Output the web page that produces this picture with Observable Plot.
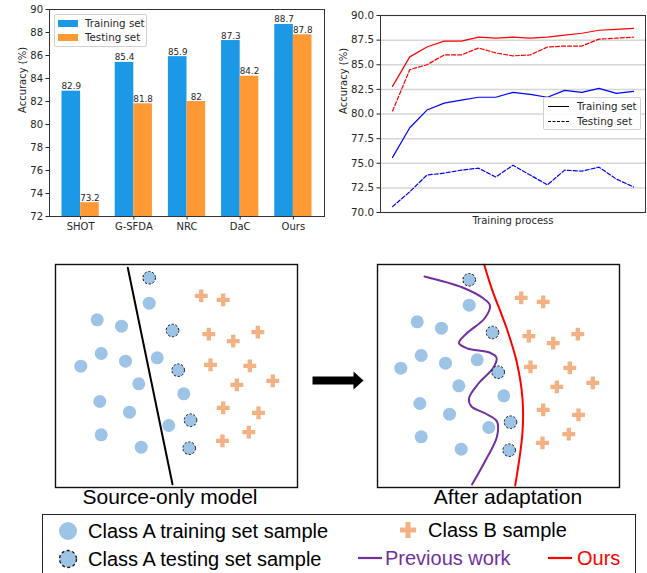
<!DOCTYPE html>
<html><head><meta charset="utf-8">
<script src="https://cdn.jsdelivr.net/npm/d3@7"></script>
<script src="https://cdn.jsdelivr.net/npm/@observablehq/plot@0.6"></script>
<style>
body{margin:0;overflow:hidden;background:#fff;}
#root{position:relative;width:647px;height:573px;overflow:hidden;background:#fff;}
#root > *{position:absolute;}
.lg{font-family:"DejaVu Sans";font-size:10px;color:#262626;background:rgba(255,255,255,0.85);border:1px solid #d0d0d0;border-radius:2px;box-sizing:border-box;}
.lg div{position:absolute;white-space:nowrap;line-height:12px;}
.big{font-family:"Liberation Sans",Arial,sans-serif;white-space:nowrap;color:#000;}
</style></head><body><div id="root"></div>
<script>
// ---------- data ----------
const methods = ["SHOT", "G-SFDA", "NRC", "DaC", "Ours"];
const trainAcc = [82.9, 85.4, 85.9, 87.3, 88.7];
const testAcc = [73.2, 81.8, 82, 84.2, 87.8];
const barTicks = [72, 74, 76, 78, 80, 82, 84, 86, 88, 90];
const setNames = ["Training set", "Testing set"];
const barColors = ["#1b98e6", "#ff9933"];

const oursTrain = [82.8, 85.8, 86.8, 87.4, 87.4, 87.8, 87.7, 87.8, 87.7, 87.8, 88.0, 88.2, 88.5, 88.6, 88.7];
const oursTest  = [80.3, 84.5, 85.0, 86.0, 86.0, 86.7, 86.2, 85.9, 86.0, 86.8, 86.9, 86.9, 87.6, 87.7, 87.8];
const baseTrain = [75.6, 78.6, 80.4, 81.1, 81.4, 81.7, 81.7, 82.2, 82.0, 81.7, 82.4, 82.2, 82.6, 82.1, 82.3];
const baseTest  = [70.6, 72.1, 73.8, 74.0, 74.3, 74.5, 73.6, 74.8, 73.8, 72.8, 74.3, 74.2, 74.6, 73.4, 72.6];
const lineTicks = [70, 72.5, 75, 77.5, 80, 82.5, 85, 87.5, 90];

// schematic feature space (unitless, 0..242 x 0..223, y downward)
const trainPts = [[93.7,38.7],[41.7,55.3],[66,61.7],[45.7,89],[70,96.7],[101.7,93.3],[25.3,101.7],[83.3,119.3],[128.3,129.3],[44.3,137],[74,147.7],[113.3,161],[45.7,170.3],[85.7,182.7]];
const testPts = [[93.7,13.3],[117,66],[122.7,105.7],[135,155.7],[133.7,183.7]];
const classBPts = [[145.7,31.3],[167.7,35.3],[153.3,69.7],[177.7,76.7],[202.3,67.7],[155,100.3],[194.3,101.3],[181.3,120.3],[217.3,116.3],[167.7,143.3],[203,148.3],[193.3,167.7],[167,176.3]];
const sourceBoundary = [[72.3,3.3],[117,219.7]];
const prevBoundary = [[47,12],[85,23],[106,34],[112.5,41],[107,54],[89,69],[81.5,78.5],[90,84],[112,88],[119,93],[116,103],[101,119],[91.5,134],[94,142],[108,149],[119.5,157],[119.5,172],[108,196],[94.5,220]];
const oursBoundary = [[106.7,0.3],[114.3,24.3],[129.3,64.3],[139.3,97.7],[145,134.3],[145,167.7],[137.7,221]];
const arrowShape = [[15,16],[56,16],[56,11],[66,20],[56,29],[56,24],[15,24]];

const captions = ["Source-only model", "After adaptation"];
const legendLabels = ["Class A training set sample", "Class B sample", "Class A testing set sample", "Previous work", "Ours"];

const root = document.getElementById("root");
function place(el, x, y) { el.style.left = x + "px"; el.style.top = y + "px"; root.appendChild(el); return el; }

// ---------- bar chart ----------
const barRows = [];
methods.forEach((m, i) => {
  barRows.push({i, method: m, set: setNames[0], value: trainAcc[i], x1: i - 0.35, x2: i});
  barRows.push({i, method: m, set: setNames[1], value: testAcc[i], x1: i, x2: i + 0.35});
});
const bar = Plot.plot({
  width: 330, height: 240, marginLeft: 49, marginRight: 6, marginTop: 9, marginBottom: 24,
  style: {fontFamily: "DejaVu Sans", fontSize: "10px", color: "#262626", background: "transparent"},
  x: {domain: [-0.585, 4.585]},
  y: {domain: [72, 90]},
  marks: [
    Plot.rect(barRows, {x1: "x1", x2: "x2", y1: () => 72, y2: "value", fill: d => barColors[setNames.indexOf(d.set)]}),
    Plot.text(barRows, {x: d => (d.x1 + d.x2) / 2, y: "value", text: d => String(d.value), lineAnchor: "bottom", dy: -2, fontSize: 8.8, fill: "#262626"}),
    Plot.axisX({ticks: [0, 1, 2, 3, 4], tickFormat: i => methods[i], tickSize: 3.5, tickPadding: 3, label: null, fontSize: 10}),
    Plot.axisY({ticks: barTicks, tickSize: 3.5, tickPadding: 3, label: null, fontSize: 10}),
    Plot.text(["Accuracy (%)"], {frameAnchor: "left", rotate: -90, dx: -27, fontSize: 10, fill: "#262626"}),
    Plot.frame({stroke: "#333", strokeWidth: 1})
  ]
});
place(bar, 0, 0);

const barLeg = document.createElement("div");
barLeg.className = "lg";
barLeg.style.width = "93px"; barLeg.style.height = "33px";
setNames.forEach((s, k) => {
  const sw = document.createElement("div");
  sw.style.cssText = `left:3px;top:${5 + k * 14}px;width:20px;height:7px;background:${barColors[k]};`;
  const t = document.createElement("div");
  t.style.cssText = `left:30px;top:${2 + k * 14}px;font-size:10.3px;`;
  t.textContent = s;
  barLeg.append(sw, t);
});
place(barLeg, 54, 14);

// ---------- line chart ----------
const series = [
  {model: "Ours", set: setNames[0], vals: oursTrain},
  {model: "Ours", set: setNames[1], vals: oursTest},
  {model: "Base", set: setNames[0], vals: baseTrain},
  {model: "Base", set: setNames[1], vals: baseTest}
];
const lineRows = series.flatMap(s => s.vals.map((v, step) => ({step, value: v, model: s.model, set: s.set, key: s.model + s.set})));
const lineColor = d => d.model === "Ours" ? "#ff0000" : "#0000ff";
const line = Plot.plot({
  width: 327, height: 240, marginLeft: 60, marginRight: 2, marginTop: 15, marginBottom: 28,
  style: {fontFamily: "DejaVu Sans", fontSize: "10px", color: "#262626", background: "transparent"},
  x: {domain: [-0.7, 14.7], axis: null},
  y: {domain: [70, 90]},
  marks: [
    Plot.gridY({ticks: lineTicks, stroke: "#d6d6d6", strokeOpacity: 1, strokeWidth: 1.5}),
    Plot.line(lineRows.filter(d => d.set === setNames[0]), {x: "step", y: "value", z: "key", stroke: lineColor, strokeWidth: 1.2}),
    Plot.line(lineRows.filter(d => d.set === setNames[1]), {x: "step", y: "value", z: "key", stroke: lineColor, strokeWidth: 1.2, strokeDasharray: "4,2"}),
    Plot.axisY({ticks: lineTicks, tickFormat: d3.format(".1f"), tickSize: 3.5, tickPadding: 3, label: null, fontSize: 10.3}),
    Plot.text(["Accuracy (%)"], {frameAnchor: "left", rotate: -90, dx: -37, fontSize: 10, fill: "#262626"}),
    Plot.text(["Training process"], {frameAnchor: "bottom", lineAnchor: "top", dy: 4, fontSize: 10, fill: "#262626"}),
    Plot.frame({stroke: "#333", strokeWidth: 1})
  ]
});
place(line, 320, 0);

const lineLeg = document.createElement("div");
lineLeg.className = "lg";
lineLeg.style.width = "98px"; lineLeg.style.height = "33px";
setNames.forEach((s, k) => {
  const sw = document.createElement("div");
  sw.style.cssText = `left:4px;top:${8 + k * 15}px;width:21px;height:0;border-top:1.3px ${k ? "dashed" : "solid"} #000;`;
  const t = document.createElement("div");
  t.style.cssText = `left:33px;top:${2 + k * 15}px;font-size:10.3px;`;
  t.textContent = s;
  lineLeg.append(sw, t);
});
place(lineLeg, 543, 97);

// ---------- schematic panels ----------
const ptColor = "#9dc3e6", crossColor = "#f4b183";
function panel(extra, shift) {
  return Plot.plot({
    width: 246, height: 227, margin: 2,
    x: {domain: [0, 242], axis: null},
    y: {domain: [0, 223], reverse: true, axis: null},
    style: {background: "transparent"},
    marks: [
      ...extra,
      Plot.dot(classBPts, {x: d => d[0], y: d => d[1], symbol: "cross", r: 5.4, fill: crossColor, stroke: "none", dx: shift[0], dy: shift[1]}),
      Plot.dot(trainPts, {x: d => d[0], y: d => d[1], r: 6.5, fill: ptColor, stroke: "none", dx: shift[0], dy: shift[1]}),
      Plot.dot(testPts, {x: d => d[0], y: d => d[1], r: 6.3, fill: ptColor, stroke: "#111", strokeWidth: 1, strokeDasharray: "2.2,1.8", dx: shift[0], dy: shift[1]}),
      Plot.frame({stroke: "#111", strokeWidth: 1.4})
    ]
  });
}
const leftPanel = panel([
  Plot.line(sourceBoundary, {x: d => d[0], y: d => d[1], stroke: "#000", strokeWidth: 2})
], [0, 0]);
place(leftPanel, 53, 262);

const rightPanel = panel([
  Plot.line(prevBoundary, {x: d => d[0], y: d => d[1], stroke: "#7030a0", strokeWidth: 2, curve: "catmull-rom"}),
  Plot.line(oursBoundary, {x: d => d[0], y: d => d[1], stroke: "#ff0000", strokeWidth: 2, curve: "catmull-rom"})
], [-2, 2]);
place(rightPanel, 375, 262);

const arrow = Plot.plot({
  width: 80, height: 40, margin: 0,
  x: {domain: [0, 80], axis: null},
  y: {domain: [0, 40], reverse: true, axis: null},
  style: {background: "transparent"},
  marks: [Plot.line(arrowShape, {x: d => d[0], y: d => d[1], fill: "#000", stroke: "none"})]
});
place(arrow, 297, 360);

// captions
[[captions[0], 170], [captions[1], 508]].forEach(([t, cx]) => {
  const d = document.createElement("div");
  d.className = "big";
  d.style.cssText = "font-size:21px;line-height:22px;transform:translateX(-50%);";
  d.textContent = t;
  place(d, cx, 486);
});

// ---------- bottom legend ----------
const legBox = document.createElement("div");
legBox.style.cssText = "width:594px;height:90px;border:1.5px solid #222;box-sizing:border-box;";
place(legBox, 42, 514);

function swatch(kind) {
  const s = document.createElementNS("http://www.w3.org/2000/svg", "svg");
  s.setAttribute("width", 30); s.setAttribute("height", 24);
  let inner = "";
  if (kind === "train") inner = `<circle cx="15" cy="12" r="9" fill="${ptColor}"/>`;
  else if (kind === "test") inner = `<circle cx="15" cy="12" r="8.5" fill="${ptColor}" stroke="#111" stroke-width="1.3" stroke-dasharray="3,2.5"/>`;
  else if (kind === "cross") inner = `<path d="M12.5 4h5v5.5h5.5v5h-5.5v5.5h-5v-5.5h-5.5v-5h5.5z" fill="${crossColor}"/>`;
  else inner = `<line x1="3" x2="27" y1="12" y2="12" stroke="${kind}" stroke-width="2.2"/>`;
  s.innerHTML = inner;
  return s;
}
const legendLayout = [
  {label: legendLabels[0], kind: "train", sx: 53, tx: 88, y: 531, color: "#000"},
  {label: legendLabels[1], kind: "cross", sx: 393, tx: 428, y: 530, color: "#000"},
  {label: legendLabels[2], kind: "test", sx: 53, tx: 88, y: 559, color: "#000"},
  {label: legendLabels[3], kind: "#7030a0", sx: 355, tx: 385, y: 558, color: "#7030a0"},
  {label: legendLabels[4], kind: "#ff0000", sx: 545, tx: 577, y: 558, color: "#ff0000"}
];
legendLayout.forEach(it => {
  place(swatch(it.kind), it.sx, it.y - 12);
  const t = document.createElement("div");
  t.className = "big";
  t.style.cssText = `font-size:20px;line-height:24px;color:${it.color};`;
  t.textContent = it.label;
  place(t, it.tx, it.y - 12);
});
</script></body></html>
